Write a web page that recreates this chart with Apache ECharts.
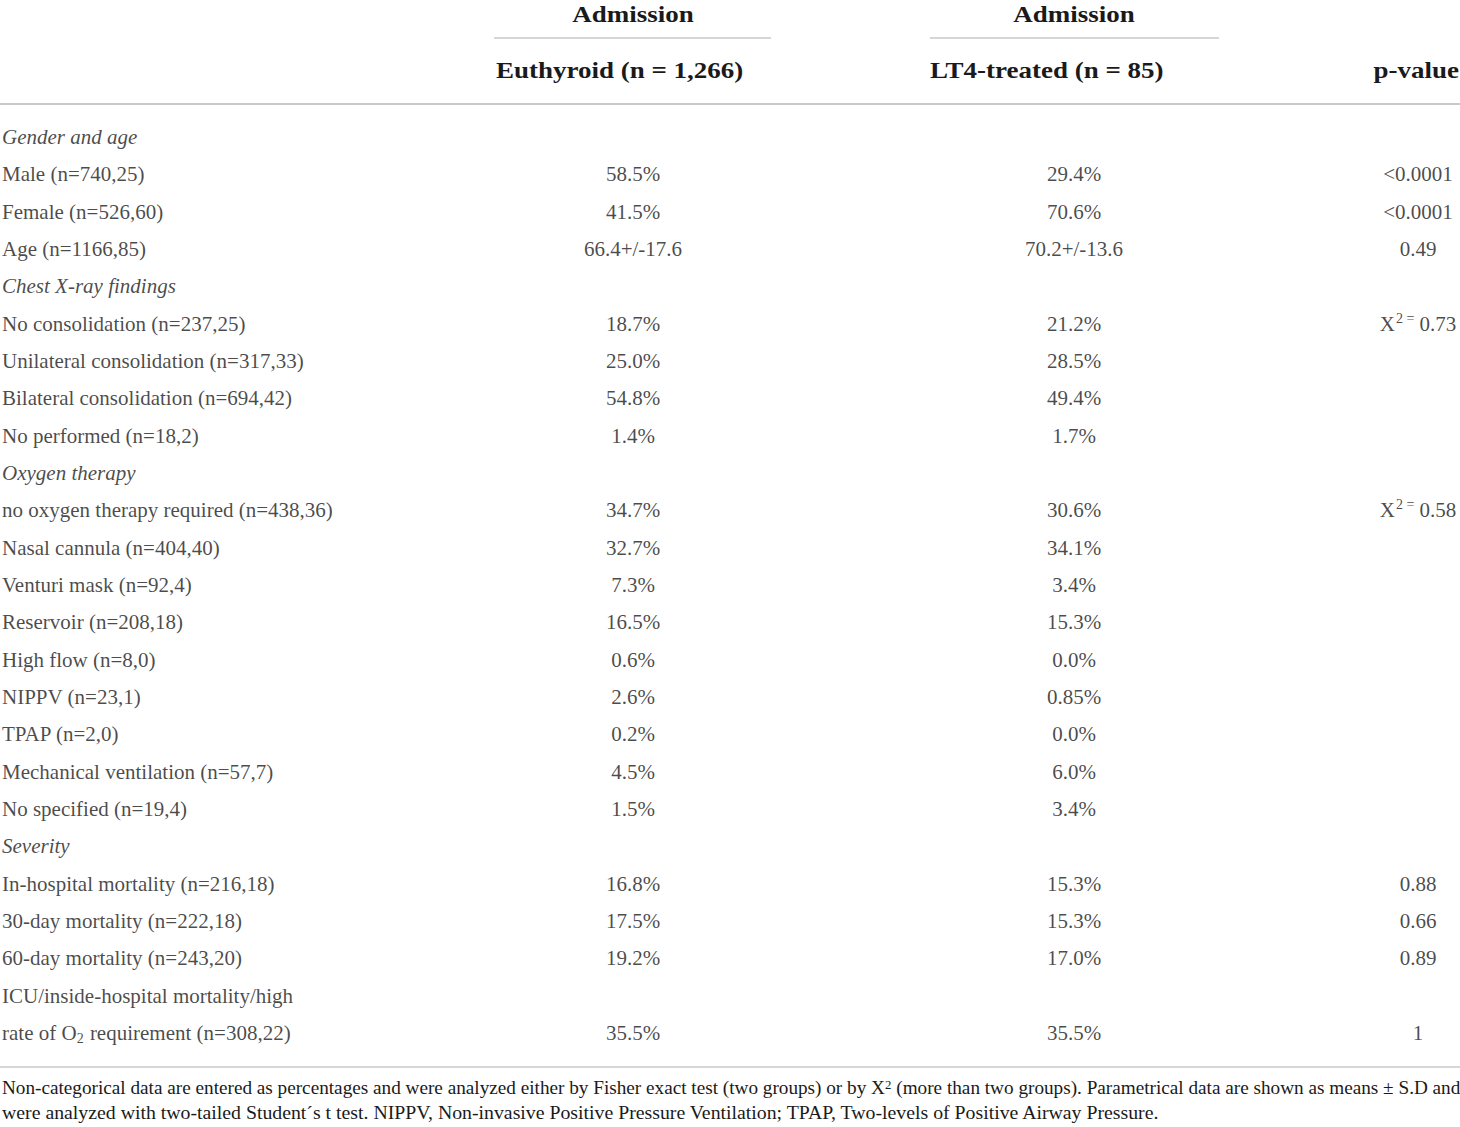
<!DOCTYPE html>
<html>
<head>
<meta charset="utf-8">
<script src="https://cdn.jsdelivr.net/npm/echarts@6/dist/echarts.min.js"></script>
<style>
  html, body { margin: 0; padding: 0; background: #fff; }
  #main { width: 1460px; height: 1127px; }
</style>
</head>
<body>
<div id="main"></div>
<script>
// table rows (one category per printed line)
const rowLabels = [
  'Gender and age',
  'Male (n=740,25)',
  'Female (n=526,60)',
  'Age (n=1166,85)',
  'Chest X-ray findings',
  'No consolidation (n=237,25)',
  'Unilateral consolidation (n=317,33)',
  'Bilateral consolidation (n=694,42)',
  'No performed (n=18,2)',
  'Oxygen therapy',
  'no oxygen therapy required (n=438,36)',
  'Nasal cannula (n=404,40)',
  'Venturi mask (n=92,4)',
  'Reservoir (n=208,18)',
  'High flow (n=8,0)',
  'NIPPV (n=23,1)',
  'TPAP (n=2,0)',
  'Mechanical ventilation (n=57,7)',
  'No specified (n=19,4)',
  'Severity',
  'In-hospital mortality (n=216,18)',
  '30-day mortality (n=222,18)',
  '60-day mortality (n=243,20)',
  'ICU/inside-hospital mortality/high',
  'rate of O₂ requirement (n=308,22)'
];
const sections = ['Gender and age', 'Chest X-ray findings', 'Oxygen therapy', 'Severity'];

const euthyroid = [
  '', '58.5%', '41.5%', '66.4+/-17.6',
  '', '18.7%', '25.0%', '54.8%', '1.4%',
  '', '34.7%', '32.7%', '7.3%', '16.5%', '0.6%', '2.6%', '0.2%', '4.5%', '1.5%',
  '', '16.8%', '17.5%', '19.2%', '', '35.5%'
];
const lt4Treated = [
  '', '29.4%', '70.6%', '70.2+/-13.6',
  '', '21.2%', '28.5%', '49.4%', '1.7%',
  '', '30.6%', '34.1%', '3.4%', '15.3%', '0.0%', '0.85%', '0.0%', '6.0%', '3.4%',
  '', '15.3%', '15.3%', '17.0%', '', '35.5%'
];
const pValues = [
  '', '<0.0001', '<0.0001', '0.49',
  '', 'X² = 0.73', '', '', '',
  '', 'X² = 0.58', '', '', '', '', '', '', '', '',
  '', '0.88', '0.66', '0.89', '', '1'
];

const groupTitle = 'Admission';
const colHeaders = ['Euthyroid (n = 1,266)', 'LT4-treated (n = 85)', 'p-value'];
const footnote = [
  'Non-categorical data are entered as percentages and were analyzed either by Fisher exact test (two groups) or by X² (more than two groups). Parametrical data are shown as means ± S.D and',
  'were analyzed with two-tailed Student´s t test. NIPPV, Non-invasive Positive Pressure Ventilation; TPAP, Two-levels of Positive Airway Pressure.'
];

const FONT = '"Liberation Serif", "DejaVu Serif", serif';
const INK = '#1a1a1a';
const RULE = '#c9c9c9';
// column anchors on the x axis (0..1460 px wide table)
const colX = [2, 633, 1074, 1418];

const rich = {
  it: { fontStyle: 'italic', fontFamily: FONT, fontSize: 21, color: INK },
  sup: { fontFamily: FONT, fontSize: 14, color: INK, verticalAlign: 'top', lineHeight: 14, padding: [0, 0, 0, 1] },
  sub: { fontFamily: FONT, fontSize: 14, color: INK, verticalAlign: 'bottom', lineHeight: 14, padding: [8, 1, 0, 0] }
};

function toRich(t) {
  if (sections.indexOf(t) >= 0) return '{it|' + t + '}';
  return t.replace('X² =', 'X{sup|2 =}').replace('X²', 'X{sup|2}').replace('O₂', 'O{sub|2}');
}

function colSeries(values, x, left) {
  return {
    type: 'scatter',
    silent: true,
    symbolSize: 0,
    data: values.map((v, i) => ({ value: [x, i], name: v })),
    label: {
      show: true,
      position: left ? 'right' : 'inside',
      distance: 0,
      align: left ? 'left' : 'center',
      verticalAlign: 'middle',
      fontFamily: FONT,
      fontSize: 21,
      color: INK,
      lineHeight: 25,
      rich: rich,
      formatter: p => toRich(p.name)
    }
  };
}

function headText(text, x, y, align) {
  return {
    type: 'text', x: x, y: y, scaleX: 1.125,
    style: { text: text, font: 'bold 24px ' + FONT, fill: INK, align: align, verticalAlign: 'middle' }
  };
}

const chart = echarts.init(document.getElementById('main'), null, { renderer: 'svg' });

chart.setOption({
  backgroundColor: '#fff',
  animation: false,
  grid: { left: 0, right: 0, top: 118.5, bottom: 75.5 },
  xAxis: { type: 'value', min: 0, max: 1460, show: false },
  yAxis: {
    type: 'category',
    inverse: true,
    data: rowLabels.map((_, i) => i),
    show: false
  },
  series: [
    colSeries(rowLabels, colX[0], true),
    colSeries(euthyroid, colX[1], false),
    colSeries(lt4Treated, colX[2], false),
    colSeries(pValues, colX[3], false)
  ],
  graphic: [
    headText(groupTitle, 633, 14, 'center'),
    headText(groupTitle, 1074, 14, 'center'),
    { type: 'line', shape: { x1: 494, y1: 38, x2: 771, y2: 38 }, style: { stroke: RULE, lineWidth: 1.5 } },
    { type: 'line', shape: { x1: 930, y1: 38, x2: 1219, y2: 38 }, style: { stroke: RULE, lineWidth: 1.5 } },
    headText(colHeaders[0], 496, 70, 'left'),
    headText(colHeaders[1], 930, 70, 'left'),
    headText(colHeaders[2], 1459, 70, 'right'),
    { type: 'line', shape: { x1: 0, y1: 104, x2: 1460, y2: 104 }, style: { stroke: RULE, lineWidth: 2 } },
    { type: 'line', shape: { x1: 0, y1: 1067, x2: 1460, y2: 1067 }, style: { stroke: RULE, lineWidth: 1.5 } },
    {
      type: 'text', x: 2, y: 1088, scaleX: 1.067,
      style: {
        text: footnote[0].replace('X²', 'X{s|2}'),
        font: '18px ' + FONT, fill: INK, verticalAlign: 'middle',
        rich: { s: { fontFamily: FONT, fontSize: 12, fill: INK, verticalAlign: 'top', lineHeight: 12 } }
      }
    },
    { type: 'text', x: 2, y: 1113, scaleX: 1.1, style: { text: footnote[1], font: '18px ' + FONT, fill: INK, verticalAlign: 'middle' } }
  ]
});
</script>
</body>
</html>
